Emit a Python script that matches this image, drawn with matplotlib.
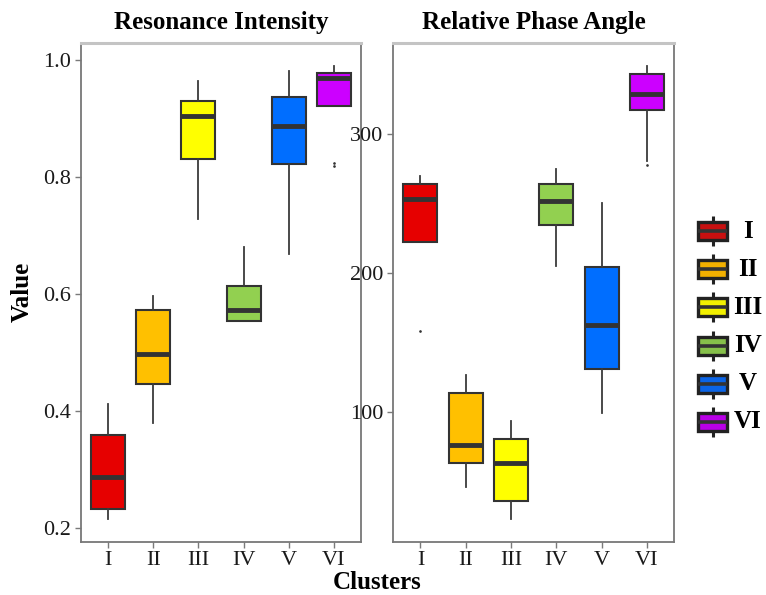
import matplotlib
matplotlib.use('Agg')
import matplotlib.pyplot as plt
from matplotlib.patches import Rectangle

plt.rcParams['font.family'] = ['Liberation Serif', 'DejaVu Serif']

clusters = ['I', 'II', 'III', 'IV', 'V', 'VI']
colors = ['#E60000', '#FFC000', '#FFFF00', '#92D050', '#006EFF', '#CC00FF']
legend_fill = ['#C81010', '#F2B000', '#F2F000', '#86C04A', '#0A64E6', '#B800E6']

# Resonance Intensity
ri_whislo = [0.216, 0.380, 0.728, 0.554, 0.669, 0.922]
ri_q1 = [0.2325, 0.446, 0.831, 0.554, 0.823, 0.922]
ri_med = [0.288, 0.4975, 0.904, 0.573, 0.888, 0.970]
ri_q3 = [0.3595, 0.573, 0.931, 0.614, 0.937, 0.978]
ri_whishi = [0.4125, 0.597, 0.965, 0.681, 0.982, 0.990]
ri_fliers = [[], [], [], [], [], [0.825, 0.819]]

# Relative Phase Angle
pa_whislo = [222.1, 45.5, 22.6, 205.3, 98.8, 281.0]
pa_q1 = [222.1, 62.8, 35.6, 234.8, 130.6, 317.7]
pa_med = [253.1, 76.0, 63.0, 252.1, 162.3, 328.8]
pa_q3 = [264.4, 113.3, 80.3, 263.9, 204.1, 343.7]
pa_whishi = [269.9, 126.2, 93.5, 274.8, 250.7, 349.2]
pa_fliers = [[158.2], [], [], [], [], [277.6]]

ri_ticks = [0.2, 0.4, 0.6, 0.8, 1.0]
pa_ticks = [100, 200, 300]

W, H = 766, 595
fig = plt.figure(figsize=(W / 100, H / 100), dpi=100)


def px_axes(x0, x1, y0, y1):
    return fig.add_axes([x0 / W, 1 - y1 / H, (x1 - x0) / W, (y1 - y0) / H])


def draw_panel(ax, title, wlo, q1, med, q3, whi, fl, ylim, ticks, fmt):
    stats = []
    for i, lab in enumerate(clusters):
        stats.append(dict(label=lab, whislo=wlo[i], q1=q1[i], med=med[i],
                          q3=q3[i], whishi=whi[i], fliers=fl[i]))
    bp = ax.bxp(stats, positions=range(1, 7), widths=0.75, patch_artist=True,
                showcaps=False,
                boxprops=dict(edgecolor='#333333', linewidth=1.5),
                medianprops=dict(color='#333333', linewidth=3.5, solid_capstyle='butt'),
                whiskerprops=dict(color='#3a3a3a', linewidth=1.3),
                flierprops=dict(marker='.', markersize=1.8, markerfacecolor='#333333',
                                markeredgecolor='#333333', linestyle='none'))
    for patch, c in zip(bp['boxes'], colors):
        patch.set_facecolor(c)
    ax.set_xlim(0.4, 6.6)
    ax.set_ylim(*ylim)
    ax.set_yticks(ticks)
    ax.set_yticklabels([fmt(t) for t in ticks])
    ax.set_xticks(range(1, 7))
    ax.set_xticklabels(clusters)
    ax.tick_params(axis='both', labelsize=16, colors='#7a7a7a', labelcolor='#1a1a1a',
                   length=4, width=1, direction='out', pad=3)
    for s in ['left', 'bottom', 'right']:
        ax.spines[s].set_color('#777777')
        ax.spines[s].set_linewidth(1.3)
    ax.spines['top'].set_color('#c4c4c4')
    ax.spines['top'].set_linewidth(2.2)
    ax.set_title(title, fontsize=18, fontweight='bold', pad=10)


ax1 = px_axes(81, 361, 43, 541.7)
draw_panel(ax1, 'Resonance Intensity', ri_whislo, ri_q1, ri_med, ri_q3, ri_whishi,
           ri_fliers, (0.177, 1.0296), ri_ticks, lambda t: f'{t:.1f}')

ax2 = px_axes(393.3, 674, 43, 541.7)
draw_panel(ax2, 'Relative Phase Angle', pa_whislo, pa_q1, pa_med, pa_q3, pa_whishi,
           pa_fliers, (6.3, 365.8), pa_ticks, lambda t: f'{t:d}')

fig.text(22 / W, 1 - 292 / H, 'Value', rotation=90, fontsize=18, fontweight='bold',
         ha='center', va='center')
fig.text(377 / W, 1 - 589 / H, 'Clusters', fontsize=18, fontweight='bold',
         ha='center', va='baseline')

# Legend
lg = fig.add_axes([0, 0, 1, 1], facecolor='none')
lg.set_xlim(0, W)
lg.set_ylim(H, 0)
lg.axis('off')
y0, dy = 231, 38.2
for i, (lab, c) in enumerate(zip(clusters, legend_fill)):
    yc = y0 + i * dy
    lg.plot([712.5, 712.5], [yc - 15, yc - 9], color='#222222', lw=2.2,
            solid_capstyle='butt')
    lg.plot([712.5, 712.5], [yc + 9, yc + 15], color='#222222', lw=2.2,
            solid_capstyle='butt')
    lg.add_patch(Rectangle((698, yc - 9), 29, 18, facecolor=c, edgecolor='#222222', lw=2.4))
    lg.plot([698, 727], [yc, yc], color='#333333', lw=2.6, solid_capstyle='butt')
    lg.text(748, yc, lab, fontsize=18, fontweight='bold', ha='center', va='center')

fig.savefig('out.png', dpi=100)
